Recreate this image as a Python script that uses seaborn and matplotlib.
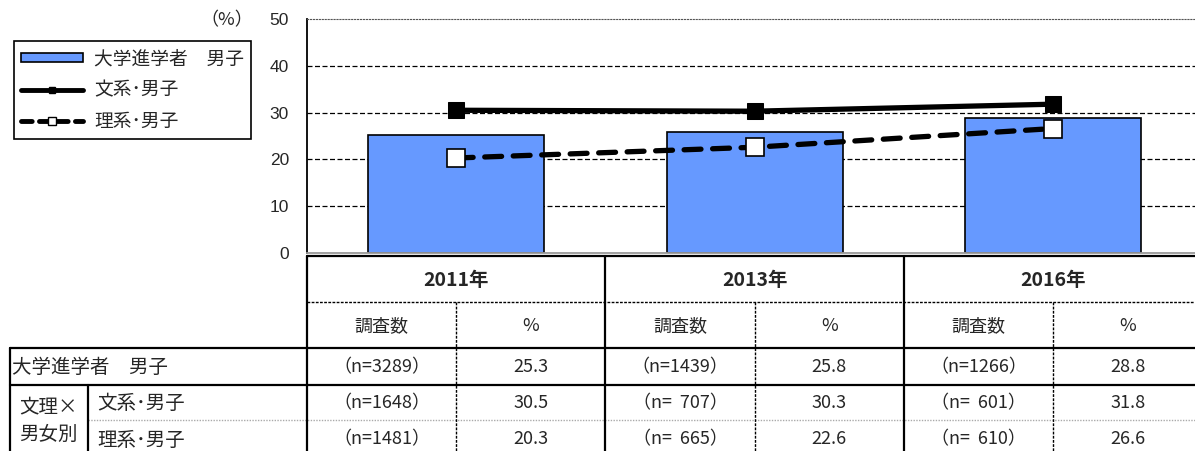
import matplotlib
matplotlib.use("Agg")
import matplotlib.pyplot as plt
from matplotlib.patches import Patch
from matplotlib.lines import Line2D
import seaborn as sns
import pandas as pd

# data
years = ["2011年", "2013年", "2016年"]
univ_pct = [25.3, 25.8, 28.8]
bunkei_pct = [30.5, 30.3, 31.8]
rikei_pct = [20.3, 22.6, 26.6]
univ_n = [3289, 1439, 1266]
bunkei_n = [1648, 707, 601]
rikei_n = [1481, 665, 610]
series_names = ["大学進学者　男子", "文系･男子", "理系･男子"]

sns.set_style("white")
plt.rcParams['font.family'] = ['Noto Sans CJK JP', 'DejaVu Sans']

W, H = 1195, 451
fig = plt.figure(figsize=(W / 100, H / 100), dpi=100)

# layout (pixels)
x0, cw = 307, 298.5
y_top, y_zero = 19, 253

ax = fig.add_axes([x0 / W, (H - y_zero) / H, 3 * cw / W, (y_zero - y_top) / H])
ax.set_facecolor("none")

df = pd.DataFrame({"year": years, "pct": univ_pct})
sns.barplot(data=df, x="year", y="pct", color="#6699FF", width=0.59,
            edgecolor="black", linewidth=1.2, saturation=1, ax=ax, zorder=2)

xs = list(range(len(years)))
sns.lineplot(x=xs, y=bunkei_pct, color="black", lw=3.8, marker="s",
             markersize=12, markerfacecolor="black", markeredgecolor="black",
             errorbar=None, ax=ax, zorder=4)
sns.lineplot(x=xs, y=rikei_pct, color="black", lw=3.8, marker="s",
             markersize=13, markerfacecolor="white", markeredgecolor="black",
             markeredgewidth=1.2, errorbar=None, ax=ax, zorder=4)
ln = ax.lines[-1]
ln.set_dashes([3.2, 2.2])
ln.set_dash_capstyle("round")

ax.set_xlim(-0.5, 2.5)
ax.set_ylim(0, 50)
ax.set_yticks([0, 10, 20, 30, 40, 50])
ax.set_yticklabels(["0", "10", "20", "30", "40", "50"],
                   fontfamily="Liberation Sans", fontsize=12.5)
ax.tick_params(axis="y", length=0, pad=13)
ax.set_xticks([])
ax.set_xticks([0.5, 1.5], minor=True)
ax.tick_params(axis="x", which="minor", direction="in", length=4, color="#999999")
ax.set_xlabel("")
ax.set_ylabel("")
ax.set_axisbelow(True)
for v in [10, 20, 30, 40]:
    ax.axhline(v, color="black", lw=0.9, ls=(0, (4, 2)), zorder=0)
ax.spines["top"].set_linestyle(":")
ax.spines["top"].set_color("#555555")
ax.spines["right"].set_visible(False)
ax.spines["left"].set_color("black")
ax.spines["left"].set_linewidth(1.3)
ax.spines["bottom"].set_color("#999999")
ax.spines["bottom"].set_linewidth(1.3)

fig.text(227 / W, 1 - 20 / H, "（%）", ha="center", va="center", fontsize=13)

handles = [
    Patch(facecolor="#6699FF", edgecolor="black", linewidth=1.2),
    Line2D([0], [0], color="black", lw=3.5, marker="s", markersize=5,
           markerfacecolor="black"),
    Line2D([0], [0], color="black", lw=3.5, ls=(0, (2.2, 1.5)), marker="s",
           markersize=6, markerfacecolor="white", markeredgecolor="black",
           dash_capstyle="round"),
]
leg = fig.legend(handles, series_names, loc="upper left",
                 bbox_to_anchor=(14 / W, 1 - 41 / H), borderaxespad=0,
                 fontsize=13.5, fancybox=False, framealpha=1, edgecolor="black",
                 handlelength=3.3, handleheight=0.4, labelspacing=0.55,
                 borderpad=0.38, handletextpad=0.6)
leg.get_frame().set_linewidth(1.2)

# table overlay in pixel coordinates
tab = fig.add_axes([0, 0, 1, 1], zorder=-1)
tab.set_xlim(0, W)
tab.set_ylim(H, 0)
tab.axis("off")

k = dict(color="black", lw=1.6)
tab.plot([x0, W], [256, 256], **k)
tab.plot([x0, W], [302, 302], color="black", lw=1.0, ls=(0, (2, 1)))
tab.plot([10, W], [348, 348], **k)
tab.plot([10, W], [385, 385], **k)
tab.plot([88, W], [420, 420], color="#aaaaaa", lw=1.0, ls=(0, (1, 1)))
tab.plot([10, 10], [348, H], **k)
tab.plot([88, 88], [385, H], **k)
for i in range(len(years)):
    xl = x0 + i * cw
    tab.plot([xl, xl], [256, H], **k)
    tab.plot([xl + cw / 2, xl + cw / 2], [302, H], color="black", lw=1.0,
             ls=(0, (2, 1)))


def nfmt(n):
    s = f"{n:4d}".replace(" ", "  ")
    return f"（n={s}）"


fs = 13
for i, yr in enumerate(years):
    xl = x0 + i * cw
    tab.text(xl + cw / 2, 280, yr, ha="center", va="center", fontsize=14,
             fontweight="bold")
    tab.text(xl + cw * 0.25, 326, "調査数", ha="center", va="center", fontsize=fs)
    tab.text(xl + cw * 0.75, 326, "%", ha="center", va="center", fontsize=fs)
    for yy, nn, pp in [(367, univ_n, univ_pct), (403, bunkei_n, bunkei_pct),
                       (439, rikei_n, rikei_pct)]:
        tab.text(xl + cw * 0.25, yy, nfmt(nn[i]), ha="center", va="center",
                 fontsize=fs)
        tab.text(xl + cw * 0.75, yy, f"{pp[i]:.1f}", ha="center", va="center",
                 fontsize=fs)

tab.text(12, 367, series_names[0], ha="left", va="center", fontsize=14)
tab.text(48, 421, "文理×\n男女別", ha="center", va="center", fontsize=14,
         linespacing=1.4)
tab.text(97, 403, series_names[1], ha="left", va="center", fontsize=14)
tab.text(97, 440, series_names[2], ha="left", va="center", fontsize=14)

fig.savefig("out.png", dpi=100)
